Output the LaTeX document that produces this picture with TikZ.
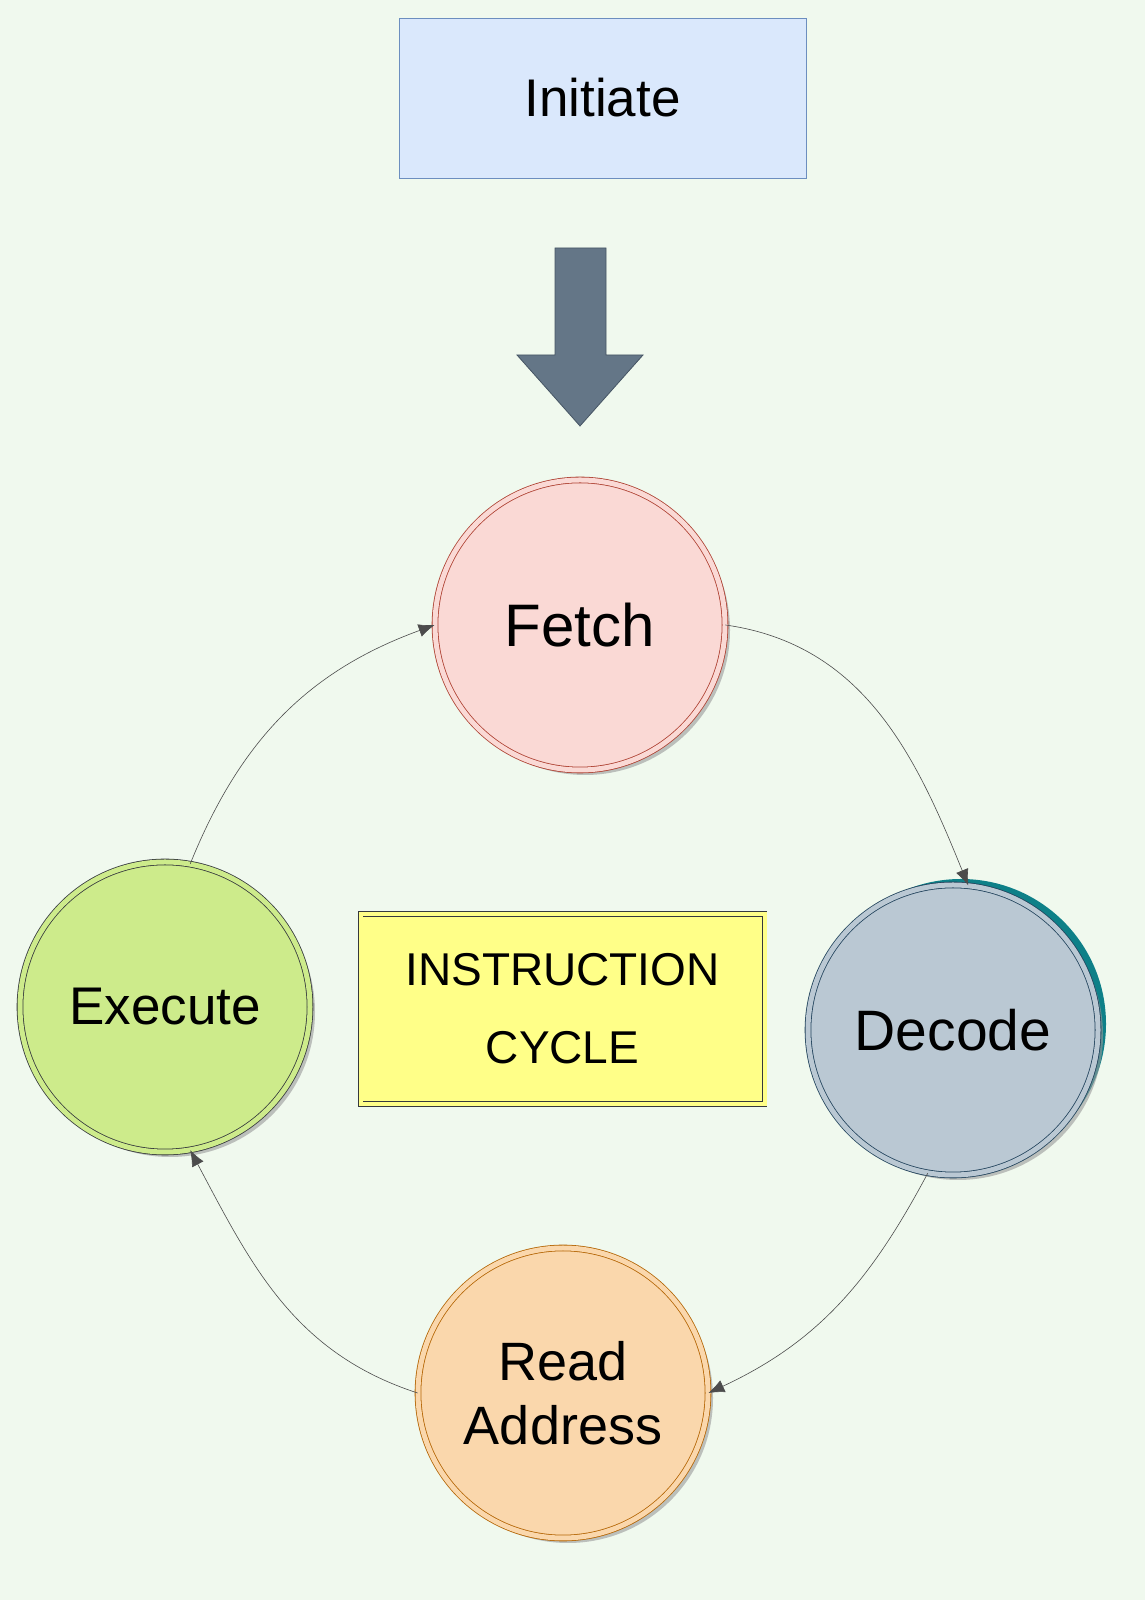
\documentclass[tikz,border=0pt]{standalone}
\usepackage{fontspec}
\setmainfont{Liberation Sans}
\usetikzlibrary{shadows,arrows.meta}
\definecolor{bg}{HTML}{F0F9EE}
\definecolor{initF}{HTML}{DAE8FC}\definecolor{initD}{HTML}{6C8EBF}
\definecolor{arrF}{HTML}{647687}\definecolor{arrD}{HTML}{465564}
\definecolor{teal}{HTML}{0E8088}
\definecolor{fetF}{HTML}{FAD9D5}\definecolor{fetD}{HTML}{AE4132}
\definecolor{decF}{HTML}{BAC8D3}\definecolor{decD}{HTML}{23445D}
\definecolor{reaF}{HTML}{FAD7AC}\definecolor{reaD}{HTML}{B46504}
\definecolor{exeF}{HTML}{CDEB8B}\definecolor{exeD}{HTML}{36393D}
\definecolor{cycF}{HTML}{FFFF88}
\begin{document}
\begin{tikzpicture}[x=1pt,y=1pt,
  stage/.style={circle,minimum size=290pt,inner sep=0pt,double distance=5pt,line width=0.8pt,align=center,font=\fontsize{54}{64}\selectfont,drop shadow={shadow xshift=5pt,shadow yshift=-5pt,fill=black!40,opacity=0.6}},
  conn/.style={draw=black!70,line width=0.6pt,-{Latex[length=16pt,width=13pt]}}]
\fill[bg] (0,0) rectangle (1145,1600);
\node[fill=initF,draw=initD,line width=0.8pt,minimum width=407pt,minimum height=160pt,font=\fontsize{53}{60}\selectfont] (init) at (602.5,1502) {Initiate};
\draw[fill=arrF,draw=arrD,line width=0.8pt]
  (555,1352) -- (606,1352) -- (606,1245) -- (643,1245) -- (580,1174) -- (517,1245) -- (555,1245) -- cycle;
\fill[teal] (961,576) circle (145);
\node[stage,draw=fetD,double=fetF,fill=fetF,font=\fontsize{60}{68}\selectfont] (fetch) at (580,975) {Fetch};
\node[stage,draw=decD,double=decF,fill=decF,font=\fontsize{57}{64}\selectfont] (decode) at (953,570) {Decode};
\node[stage,draw=reaD,double=reaF,fill=reaF] (read) at (563,207) {Read\\Address};
\node[stage,draw=exeD,double=exeF,fill=exeF,font=\fontsize{53}{60}\selectfont] (exec) at (165,593) {Execute};
\node[draw=exeD,double=cycF,double distance=4pt,fill=cycF,line width=0.7pt,minimum width=404pt,minimum height=190pt,align=center,font=\fontsize{46}{78}\selectfont] (cycle) at (562.5,591) {INSTRUCTION\\CYCLE};
\draw[conn] (fetch.east) to[out=-8,in=112] (decode.84);
\draw[conn] (decode.-100) to[out=-118,in=25] (read.east);
\draw[conn] (read.west) to[out=162,in=-62] (exec.-80);
\draw[conn] (exec.80) to[out=68,in=200] (fetch.west);
\pgfresetboundingbox
\useasboundingbox (0,0) rectangle (1145,1600);
\end{tikzpicture}
\end{document}
